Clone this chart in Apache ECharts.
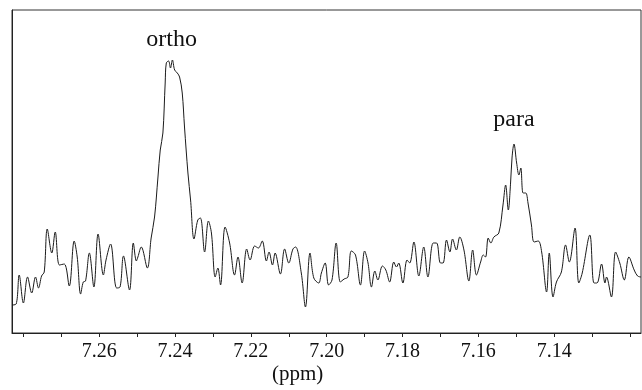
<!DOCTYPE html>
<html>
<head>
<meta charset="utf-8">
<script src="https://cdn.jsdelivr.net/npm/echarts@6/dist/echarts.min.js"></script>
<style>
  html, body {margin: 0; padding: 0; background: #fff;}
  #chart {width: 642px; height: 390px;}
</style>
</head>
<body>
<div id="chart"></div>
<script>
// chemical shift (ppm) from left to right
const ppm = [
    7.2830, 7.2819, 7.2811, 7.2800, 7.2789, 7.2778, 7.2768, 7.2760, 7.2752, 7.2745,
    7.2737, 7.2725, 7.2716, 7.2705, 7.2692, 7.2679, 7.2666, 7.2658, 7.2649, 7.2642,
    7.2636, 7.2626, 7.2614, 7.2603, 7.2589, 7.2582, 7.2570, 7.2554, 7.2545, 7.2536,
    7.2520, 7.2510, 7.2502, 7.2498, 7.2489, 7.2473, 7.2463, 7.2454, 7.2445, 7.2439,
    7.2432, 7.2426, 7.2423, 7.2417, 7.2412, 7.2407, 7.2401, 7.2394, 7.2388, 7.2381,
    7.2375, 7.2366, 7.2359, 7.2350, 7.2340, 7.2333, 7.2322, 7.2312, 7.2304, 7.2294,
    7.2287, 7.2280, 7.2268, 7.2256, 7.2243, 7.2234, 7.2223, 7.2211, 7.2202, 7.2190,
    7.2180, 7.2170, 7.2159, 7.2152, 7.2143, 7.2136, 7.2122, 7.2111, 7.2100, 7.2089,
    7.2082, 7.2067, 7.2056, 7.2044, 7.2034, 7.2021, 7.2014, 7.2004, 7.1995, 7.1986,
    7.1975, 7.1964, 7.1954, 7.1944, 7.1935, 7.1924, 7.1911, 7.1900, 7.1891, 7.1882,
    7.1873, 7.1865, 7.1853, 7.1844, 7.1834, 7.1823, 7.1816, 7.1810, 7.1799, 7.1788,
    7.1781, 7.1770, 7.1757, 7.1744, 7.1733, 7.1719, 7.1710, 7.1700, 7.1693, 7.1684,
    7.1675, 7.1668, 7.1658, 7.1649, 7.1638, 7.1625, 7.1615, 7.1605, 7.1594, 7.1587,
    7.1581, 7.1574, 7.1567, 7.1559, 7.1546, 7.1535, 7.1528, 7.1521, 7.1515, 7.1511,
    7.1506, 7.1499, 7.1493, 7.1488, 7.1482, 7.1475, 7.1469, 7.1460, 7.1453, 7.1442,
    7.1433, 7.1420, 7.1413, 7.1403, 7.1394, 7.1381, 7.1370, 7.1360, 7.1345, 7.1335,
    7.1326, 7.1306, 7.1295, 7.1287, 7.1275, 7.1266, 7.1262, 7.1249, 7.1238, 7.1227,
    7.1215, 7.1203, 7.1189, 7.1180, 7.1171
];
// intensity (arbitrary units)
const intensity = [
    28, 29, 58, 30, 56, 40, 56, 45, 57, 61,
    104, 80, 101, 68, 69, 47, 92, 76, 39, 51,
    52, 80, 46, 99, 58, 73, 89, 45, 46, 77,
    43, 90, 72, 76, 86, 65, 95, 116, 156, 183,
    200, 250, 270, 272, 265, 273, 263, 260, 256, 240,
    206, 160, 133, 94, 113, 115, 81, 112, 100, 56,
    65, 48, 106, 90, 58, 76, 50, 84, 73, 87,
    85, 92, 72, 81, 68, 80, 59, 84, 70, 84,
    86, 60, 26, 80, 55, 50, 60, 70, 48, 53,
    90, 51, 54, 56, 82, 78, 48, 82, 70, 46,
    62, 53, 67, 63, 51, 71, 66, 70, 50, 73,
    70, 91, 57, 86, 56, 90, 90, 70, 70, 93,
    81, 94, 83, 96, 83, 52, 83, 58, 71, 78,
    76, 95, 90, 96, 100, 128, 148, 123, 150, 176,
    189, 170, 158, 165, 140, 140, 130, 108, 91, 92,
    81, 41, 80, 36, 51, 61, 88, 71, 105, 50,
    60, 98, 50, 50, 69, 50, 56, 36, 81, 70,
    53, 76, 63, 57, 56
];
const tickValues = [7.28, 7.27, 7.26, 7.25, 7.24, 7.23, 7.22, 7.21, 7.20, 7.19, 7.18, 7.17, 7.16, 7.15, 7.14, 7.13, 7.12];
const labelValues = [7.26, 7.24, 7.22, 7.20, 7.18, 7.16, 7.14];
const peaks = [
    {name: 'ortho', coord: [7.2409, 293]},
    {name: 'para', coord: [7.1506, 213]}
];

const chart = echarts.init(document.getElementById('chart'));
const serif = '"Liberation Serif", "DejaVu Serif", serif';

chart.setOption({
    animation: false,
    grid: {
        left: 12, right: 1, top: 10, bottom: 57,
        show: true, borderColor: '#333', borderWidth: 1
    },
    xAxis: {
        type: 'value',
        inverse: true,
        min: 7.1171,
        max: 7.2830,
        axisLine: {show: true, lineStyle: {color: '#222', width: 1}},
        axisTick: {
            show: true, length: 4, inside: false,
            customValues: tickValues,
            lineStyle: {color: '#222'}
        },
        axisLabel: {
            customValues: labelValues,
            margin: 9,
            fontFamily: serif,
            fontSize: 20,
            color: '#111',
            formatter: v => v.toFixed(2)
        },
        splitLine: {show: false}
    },
    yAxis: {
        type: 'value',
        min: 0,
        max: 323,
        axisLine: {show: true, lineStyle: {color: '#222'}},
        axisTick: {show: false},
        axisLabel: {show: false},
        splitLine: {show: false}
    },
    graphic: [{
        type: 'text',
        left: 272, top: 364,
        style: {text: '(ppm)', font: '21px ' + serif, fill: '#111'}
    }],
    series: [{
        type: 'line',
        data: ppm.map((p, i) => [p, intensity[i]]),
        showSymbol: false,
        smooth: 0.35,
        lineStyle: {color: '#1a1a1a', width: 1},
        markPoint: {
            symbol: 'circle',
            symbolSize: 0,
            label: {
                show: true,
                position: 'inside',
                formatter: '{b}',
                fontFamily: serif,
                fontSize: 24,
                color: '#111'
            },
            data: peaks
        }
    }]
});
</script>
</body>
</html>
